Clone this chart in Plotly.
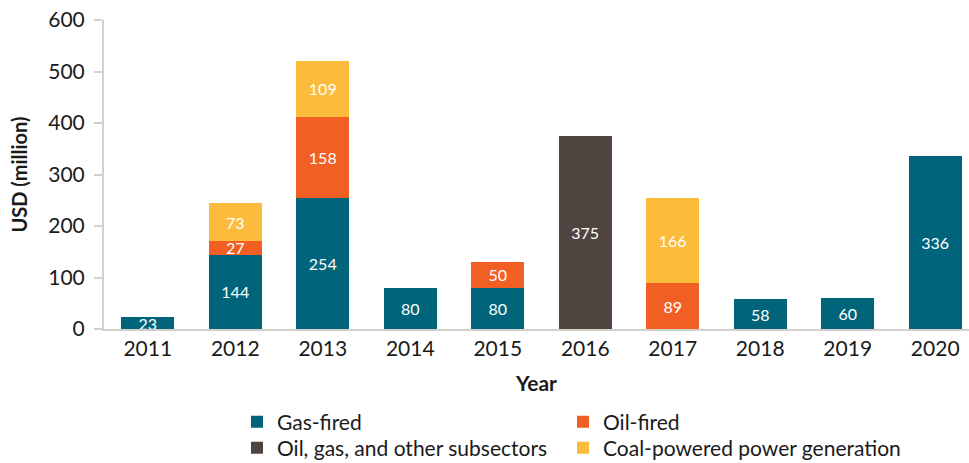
import plotly.graph_objects as go

years = ["2011", "2012", "2013", "2014", "2015", "2016", "2017", "2018", "2019", "2020"]
gas_fired = [23, 144, 254, 80, 80, None, None, 58, 60, 336]
oil_fired = [None, 27, 158, None, 50, None, 89, None, None, None]
oil_gas_other = [None, None, None, None, None, 375, None, None, None, None]
coal_power = [None, 73, 109, None, None, None, 166, None, None, None]

series = [
    ("Gas-fired", gas_fired, "#00657A", "legend"),
    ("Oil-fired", oil_fired, "#F15F24", "legend2"),
    ("Oil, gas, and other subsectors", oil_gas_other, "#4E4540", "legend3"),
    ("Coal-powered power generation", coal_power, "#FDBB3C", "legend4"),
]

fig = go.Figure()
for name, vals, color, leg in series:
    fig.add_trace(go.Bar(
        x=years, y=vals, name=name, marker=dict(color=color, line=dict(width=0)),
        text=[("" if v is None else str(v)) for v in vals],
        textposition="inside", insidetextanchor="middle", textangle=0,
        constraintext="none",
        textfont=dict(color="white", size=16, family="Lato"),
        legend=leg,
    ))

axis_color = "#D3D0CC"
L, R, T, B, W, H = 104, 0, 20, 134, 969, 463
pw, ph = W - L - R, H - T - B


def lx(px):
    return (px - L) / pw


def ly(py):
    return (H - B - py) / ph


legend_common = dict(orientation="h", xanchor="left", yanchor="middle",
                     font=dict(size=21, color="#1a1a1a"), itemclick=False,
                     bgcolor="rgba(0,0,0,0)", borderwidth=0)

fig.update_layout(
    barmode="stack",
    bargap=0.39,
    width=W, height=H,
    margin=dict(l=L, r=R, t=T, b=B, autoexpand=False),
    paper_bgcolor="white", plot_bgcolor="white",
    font=dict(family="Lato", color="#1a1a1a", size=18),
    xaxis=dict(
        range=[-0.5, 9.386], showline=True, linecolor=axis_color, linewidth=2,
        ticks="", showgrid=False, tickfont=dict(size=21),
        title=dict(text="<b>Year</b>", font=dict(size=21), standoff=17),
    ),
    yaxis=dict(
        range=[0, 600], dtick=100, showline=True, linecolor=axis_color, linewidth=2,
        ticks="outside", ticklen=8, tickcolor=axis_color, tickwidth=2,
        ticklabelstandoff=5,
        showgrid=False, zeroline=False, tickfont=dict(size=21),
        title=dict(text="<b>USD (million)</b>", font=dict(size=20), standoff=15),
    ),
    legend=dict(x=lx(237), y=ly(422), **legend_common),
    legend2=dict(x=lx(563), y=ly(422), **legend_common),
    legend3=dict(x=lx(237), y=ly(448), **legend_common),
    legend4=dict(x=lx(563), y=ly(448), **legend_common),
    showlegend=True,
)

fig.write_html(
    "out.html",
    config={"displayModeBar": False},
    post_script="document.body.style.margin='0';document.body.style.overflow='hidden';",
)
